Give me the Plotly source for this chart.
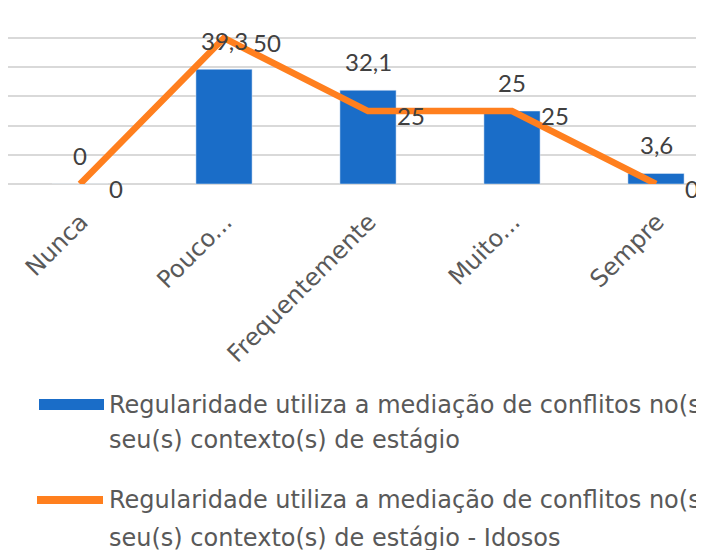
import plotly.graph_objects as go

categories = ["Nunca", "Pouco...", "Frequentemente", "Muito...", "Sempre"]
bar_values = [0, 39.3, 32.1, 25, 3.6]
line_values = [0, 50, 25, 25, 0]
bar_name = "Regularidade utiliza a mediação de conflitos no(s)<br>seu(s) contexto(s) de estágio"
line_name = "Regularidade utiliza a mediação de conflitos no(s)<br>seu(s) contexto(s) de estágio - Idosos"

W, H = 704, 550
OFF = 8  # page body margin
ML, MR, MT = 0, 0, 0
PLOT_BOTTOM = 184 - OFF
MB = H - PLOT_BOTTOM
PW, PH = W - ML - MR, PLOT_BOTTOM - MT

BLUE = "#1A6DC8"
ORANGE = "#FF7F1E"
LBL_FONT = "Lato"
TXT_FONT = "DejaVu Sans"


def fmt(v):
    return ("%g" % v).replace(".", ",")


def px(xp):
    return (xp - OFF - ML) / PW


def py(yp):
    return (PLOT_BOTTOM - (yp - OFF)) / PH


unit = 144.0
x0 = -0.5
x1 = x0 + PW / unit

fig = go.Figure()
fig.add_trace(go.Bar(x=categories, y=bar_values, marker_color=BLUE, width=0.39,
                     name=bar_name, showlegend=False))
fig.add_trace(go.Scatter(x=categories, y=line_values, mode="lines",
                         line=dict(color=ORANGE, width=6.5), name=line_name,
                         showlegend=False, cliponaxis=False))

annotations = []
for c, v in zip(categories, bar_values):
    annotations.append(dict(x=c, y=v, text=fmt(v), showarrow=False, xanchor="center",
                            yanchor="middle", yshift=29,
                            font=dict(family=LBL_FONT, size=24, color="#404040")))
for c, v in zip(categories, line_values):
    annotations.append(dict(x=c, y=v, text=fmt(v), showarrow=False, xanchor="left",
                            yanchor="middle", xshift=27, yshift=-4,
                            font=dict(family=LBL_FONT, size=24, color="#404040")))

# legend drawn manually
shapes = [
    dict(type="rect", xref="paper", yref="paper", x0=px(39), x1=px(104), y0=py(410), y1=py(399),
         fillcolor=BLUE, line=dict(width=0)),
    dict(type="line", xref="paper", yref="paper", x0=px(37), x1=px(103), y0=py(500), y1=py(500),
         line=dict(color=ORANGE, width=8)),
]
for name, ylines in [(bar_name, (405, 440)), (line_name, (500, 538))]:
    for part, yl in zip(name.split("<br>"), ylines):
        annotations.append(dict(xref="paper", yref="paper", x=px(107), y=py(yl),
                                text=part, showarrow=False, xanchor="left", yanchor="middle",
                                font=dict(family=TXT_FONT, size=24, color="#595959")))

fig.update_layout(
    width=W, height=H,
    margin=dict(l=ML, r=MR, t=MT, b=MB),
    paper_bgcolor="white", plot_bgcolor="white",
    xaxis=dict(type="category", range=[x0, x1], tickangle=-45,
               tickfont=dict(family=TXT_FONT, size=24, color="#595959"),
               showline=False, showgrid=False, ticks="", automargin=False,
               ticklabelstandoff=18, ticklabelshift=1),
    yaxis=dict(range=[0, 60.3], dtick=10, showticklabels=False, gridcolor="#D9D9D9",
               gridwidth=2, zeroline=True, zerolinecolor="#D9D9D9", zerolinewidth=2,
               automargin=False),
    annotations=annotations,
    shapes=shapes,
    showlegend=False,
)

fig.write_html("out.html")
